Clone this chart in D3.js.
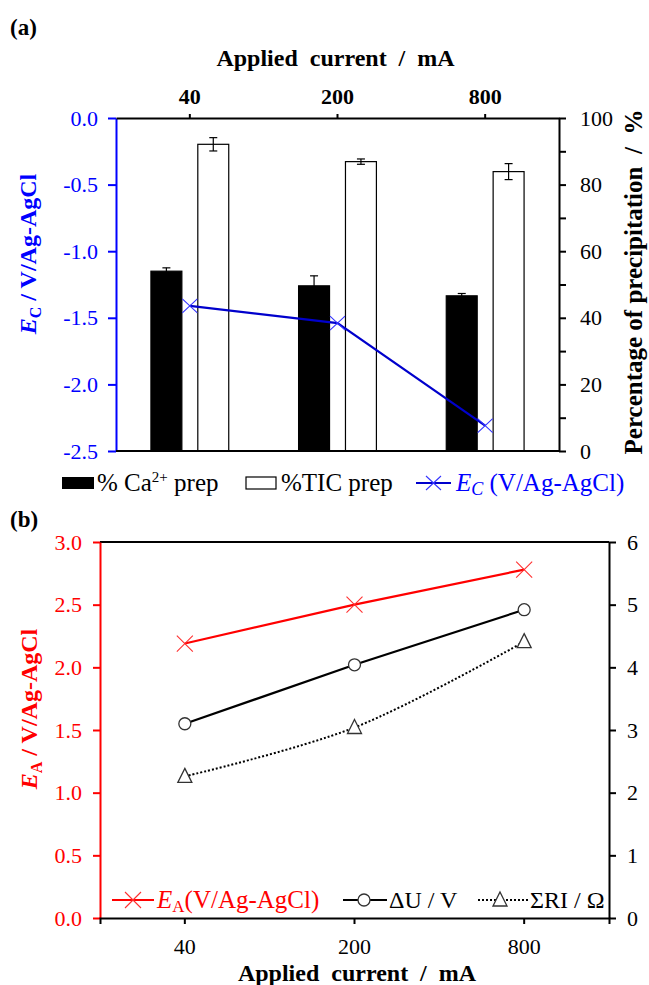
<!DOCTYPE html>
<html>
<head>
<meta charset="utf-8">
<script src="https://cdn.jsdelivr.net/npm/d3@7"></script>
<style>
  body { margin: 0; background: #fff; }
  svg text { font-family: 'Liberation Serif', 'Times New Roman', serif; }
</style>
</head>
<body>
<div id="graf"></div>
<script>
// datos
const categorias = ['40', '200', '800']
const caPrep  = [54.0, 49.6, 46.6]
const caErr   = [1.0, 3.0, 0.7]
const ticPrep = [92.1, 86.9, 83.9]
const ticErr  = [2.0, 0.8, 2.4]
const ecValores = [-1.41, -1.54, -2.31]
const eaValores = [2.19, 2.50, 2.78]
const duValores = [3.10, 4.04, 4.92]
const riValores = [2.26, 3.04, 4.41]

const ecTicks  = [0, -0.5, -1.0, -1.5, -2.0, -2.5]
const pctTicks = [0, 10, 20, 30, 40, 50, 60, 70, 80, 90, 100]
const eaTicks  = [0, 0.5, 1.0, 1.5, 2.0, 2.5, 3.0]
const derTicks = [0, 1, 2, 3, 4, 5, 6]

const AZUL = '#0000ff', AZUL_L = '#0000cc', ROJO = '#ff0000'
const FUENTE = "'Liberation Serif', 'Times New Roman', serif"
const fmt1 = d => d3.format('.1f')(d).replace('−', '-')

const svg = d3.select('#graf').append('svg')
  .attr('width', 649).attr('height', 985)
  .attr('font-family', FUENTE)

function estiloEje(g, color, tam, negrita) {
  g.attr('font-family', null).attr('font-size', null)
  g.selectAll('path, line').attr('stroke', color).attr('stroke-width', 2)
  g.selectAll('text').attr('fill', color)
    .attr('font-family', FUENTE).attr('font-size', tam)
    .attr('font-weight', negrita ? 'bold' : 'normal')
}

// ---------------- (a) ----------------
const a = { left: 116, top: 118, right: 559, bottom: 451 }

svg.append('text').attr('x', 10).attr('y', 35)
  .attr('font-size', 23).attr('font-weight', 'bold').text('(a)')

const xa = d3.scaleBand().domain(categorias).range([a.left, a.right])
const xi = d3.scaleBand().domain(['ca', 'tic']).range([0, xa.bandwidth()])
  .paddingInner(0.34).paddingOuter(0.745)
const yEc = d3.scaleLinear().domain([-2.5, 0]).range([a.bottom, a.top])
const yPct = d3.scaleLinear().domain([0, 100]).range([a.bottom, a.top])

const barras = categorias.map((c, i) => [
  { c, serie: 'ca', v: caPrep[i], e: caErr[i] },
  { c, serie: 'tic', v: ticPrep[i], e: ticErr[i] }
]).flat()

const gb = svg.append('g')
gb.selectAll('rect').data(barras).enter().append('rect')
  .attr('x', d => xa(d.c) + xi(d.serie))
  .attr('width', xi.bandwidth())
  .attr('y', d => yPct(d.v))
  .attr('height', d => yPct(0) - yPct(d.v))
  .attr('fill', d => d.serie === 'ca' ? '#000' : '#fff')
  .attr('stroke', '#000').attr('stroke-width', 1.2)

const ge = svg.append('g').attr('stroke', '#000').attr('stroke-width', 1.2)
barras.forEach(d => {
  const cx = xa(d.c) + xi(d.serie) + xi.bandwidth() / 2
  ge.append('line').attr('x1', cx).attr('x2', cx)
    .attr('y1', yPct(d.v + d.e)).attr('y2', yPct(d.v - d.e))
  ;[d.v + d.e, d.v - d.e].forEach(v => {
    ge.append('line').attr('x1', cx - 4).attr('x2', cx + 4)
      .attr('y1', yPct(v)).attr('y2', yPct(v))
  })
})

// ejes (a)
svg.append('g').attr('transform', `translate(${a.left},0)`)
  .call(d3.axisLeft(yEc).tickValues(ecTicks).tickFormat(fmt1).tickSize(8).tickPadding(10).tickSizeOuter(0))
  .call(g => estiloEje(g, AZUL, 22, false))

svg.append('g').attr('transform', `translate(${a.right},0)`)
  .call(d3.axisRight(yPct).tickValues(pctTicks).tickFormat(d => d % 20 === 0 ? d : '').tickSize(7).tickPadding(14).tickSizeOuter(0))
  .call(g => estiloEje(g, '#000', 22, false))

svg.append('g').attr('transform', `translate(0,${a.top})`)
  .call(d3.axisTop(xa).tickSize(4).tickPadding(10).tickSizeOuter(0))
  .call(g => estiloEje(g, '#000', 22, true))

svg.append('line').attr('x1', a.left).attr('x2', a.right)
  .attr('y1', a.bottom).attr('y2', a.bottom).attr('stroke', '#000').attr('stroke-width', 2)

svg.append('text').attr('x', (a.left + a.right) / 2 - 2).attr('y', 66)
  .attr('text-anchor', 'middle').attr('font-size', 24).attr('font-weight', 'bold')
  .style('white-space', 'pre').text('Applied  current  /  mA')

// línea Ec
const lineaEc = d3.line().x((d, i) => xa(categorias[i]) + xa.bandwidth() / 2).y(d => yEc(d))
svg.append('path').datum(ecValores).attr('d', lineaEc)
  .attr('fill', 'none').attr('stroke', AZUL_L).attr('stroke-width', 2.2)

function cruz(g, x, y, hx, hy, color) {
  g.append('path').attr('d', `M${x - hx},${y - hy}L${x + hx},${y + hy}M${x - hx},${y + hy}L${x + hx},${y - hy}`)
    .attr('stroke', color).attr('stroke-width', 1.1).attr('fill', 'none')
}
ecValores.forEach((v, i) => cruz(svg, xa(categorias[i]) + xa.bandwidth() / 2, yEc(v), 7.5, 7, '#3535ff'))

// títulos de ejes (a)
const tIzqA = svg.append('text').attr('transform', `translate(36,254) rotate(-90)`)
  .attr('text-anchor', 'middle').attr('font-size', 24).attr('font-weight', 'bold').attr('fill', AZUL)
tIzqA.append('tspan').attr('font-style', 'italic').text('E')
tIzqA.append('tspan').attr('font-size', 16).attr('dy', 5).text('C')
tIzqA.append('tspan').attr('dy', -5).style('white-space', 'pre').text(' / V/Ag-AgCl')

svg.append('text').attr('transform', `translate(642,282) rotate(-90)`)
  .attr('text-anchor', 'middle').attr('font-size', 25).attr('font-weight', 'bold')
  .style('white-space', 'pre').text('Percentage of precipitation  /  %')

// leyenda (a)
const ly = 483
svg.append('rect').attr('x', 62).attr('y', ly - 6).attr('width', 32).attr('height', 12).attr('fill', '#000')
const t1 = svg.append('text').attr('x', 97).attr('y', ly + 8).attr('font-size', 25)
t1.append('tspan').text('% Ca')
t1.append('tspan').attr('font-size', 15).attr('dy', -9).text('2+')
t1.append('tspan').attr('dy', 9).style('white-space', 'pre').text(' prep')
svg.append('rect').attr('x', 246).attr('y', ly - 6).attr('width', 30).attr('height', 12)
  .attr('fill', '#fff').attr('stroke', '#000').attr('stroke-width', 1.2)
svg.append('text').attr('x', 281).attr('y', ly + 8).attr('font-size', 25).text('%TIC prep')
svg.append('line').attr('x1', 416).attr('x2', 451).attr('y1', ly).attr('y2', ly)
  .attr('stroke', AZUL_L).attr('stroke-width', 2.2)
cruz(svg, 433.5, ly, 7.5, 7, '#3535ff')
const t3 = svg.append('text').attr('x', 456).attr('y', ly + 8).attr('font-size', 25).attr('fill', AZUL)
t3.append('tspan').attr('font-style', 'italic').text('E')
t3.append('tspan').attr('font-style', 'italic').attr('font-size', 18).attr('dy', 4).text('C')
t3.append('tspan').attr('dy', -4).style('white-space', 'pre').text(' (V/Ag-AgCl)')

// ---------------- (b) ----------------
const b = { left: 100, top: 542, right: 609, bottom: 918 }

svg.append('text').attr('x', 10).attr('y', 527)
  .attr('font-size', 23).attr('font-weight', 'bold').text('(b)')

const xb = d3.scaleBand().domain(categorias).range([b.left, b.right])
const yEa = d3.scaleLinear().domain([0, 3]).range([b.bottom, b.top])
const yDer = d3.scaleLinear().domain([0, 6]).range([b.bottom, b.top])
const cx = c => xb(c) + xb.bandwidth() / 2

svg.append('line').attr('x1', b.left).attr('x2', b.right)
  .attr('y1', b.top).attr('y2', b.top).attr('stroke', '#000').attr('stroke-width', 2)

svg.append('g').attr('transform', `translate(${b.left},0)`)
  .call(d3.axisLeft(yEa).tickValues(eaTicks).tickFormat(fmt1).tickSize(7).tickPadding(11).tickSizeOuter(0))
  .call(g => estiloEje(g, ROJO, 22, false))

svg.append('g').attr('transform', `translate(${b.right},0)`)
  .call(d3.axisRight(yDer).tickValues(derTicks).tickFormat(d3.format('d')).tickSize(7).tickPadding(11).tickSizeOuter(0))
  .call(g => estiloEje(g, '#000', 22, false))

svg.append('g').attr('transform', `translate(0,${b.bottom})`)
  .call(d3.axisBottom(xb).tickSize(6).tickPadding(14).tickSizeOuter(6))
  .call(g => estiloEje(g, '#000', 22, false))

svg.append('text').attr('x', 357).attr('y', 981)
  .attr('text-anchor', 'middle').attr('font-size', 24).attr('font-weight', 'bold')
  .style('white-space', 'pre').text('Applied  current  /  mA')

const tIzqB = svg.append('text').attr('transform', `translate(37,709) rotate(-90)`)
  .attr('text-anchor', 'middle').attr('font-size', 24).attr('font-weight', 'bold').attr('fill', ROJO)
tIzqB.append('tspan').attr('font-style', 'italic').text('E')
tIzqB.append('tspan').attr('font-size', 16).attr('dy', 5).text('A')
tIzqB.append('tspan').attr('dy', -5).style('white-space', 'pre').text(' / V/Ag-AgCl')

// series (b)
const lineaEa = d3.line().x((d, i) => cx(categorias[i])).y(d => yEa(d))
svg.append('path').datum(eaValores).attr('d', lineaEa)
  .attr('fill', 'none').attr('stroke', ROJO).attr('stroke-width', 2.2)

const lineaDu = d3.line().x((d, i) => cx(categorias[i])).y(d => yDer(d))
svg.append('path').datum(duValores).attr('d', lineaDu)
  .attr('fill', 'none').attr('stroke', '#000').attr('stroke-width', 2.2)

const lineaRi = d3.line().x((d, i) => cx(categorias[i])).y(d => yDer(d)).curve(d3.curveCatmullRom)
svg.append('path').datum(riValores).attr('d', lineaRi)
  .attr('fill', 'none').attr('stroke', '#000').attr('stroke-width', 2).attr('stroke-dasharray', '2,2')

function triangulo(g, x, y) {
  g.append('path').attr('d', `M${x},${y - 8}L${x + 7},${y + 6}L${x - 7},${y + 6}Z`)
    .attr('fill', '#fff').attr('stroke', '#333').attr('stroke-width', 1.3)
}
function circulo(g, x, y) {
  g.append('circle').attr('cx', x).attr('cy', y).attr('r', 6)
    .attr('fill', '#fff').attr('stroke', '#333').attr('stroke-width', 1.3)
}

eaValores.forEach((v, i) => cruz(svg, cx(categorias[i]), yEa(v), 8, 8, '#ff3030'))
duValores.forEach((v, i) => circulo(svg, cx(categorias[i]), yDer(v)))
riValores.forEach((v, i) => triangulo(svg, cx(categorias[i]), yDer(v)))

// leyenda (b)
const lb = 900
svg.append('line').attr('x1', 112).attr('x2', 154).attr('y1', lb).attr('y2', lb)
  .attr('stroke', ROJO).attr('stroke-width', 2.2)
cruz(svg, 133, lb, 8, 8, '#ff3030')
const tb1 = svg.append('text').attr('x', 157).attr('y', lb + 8).attr('font-size', 25).attr('fill', ROJO)
tb1.append('tspan').attr('font-style', 'italic').text('E')
tb1.append('tspan').attr('font-size', 17).attr('dy', 4).text('A')
tb1.append('tspan').attr('dy', -4).text('(V/Ag-AgCl)')

svg.append('line').attr('x1', 343).attr('x2', 387).attr('y1', lb).attr('y2', lb)
  .attr('stroke', '#000').attr('stroke-width', 2.2)
circulo(svg, 364, lb)
svg.append('text').attr('x', 389).attr('y', lb + 8).attr('font-size', 24)
  .style('white-space', 'pre').text('ΔU / V')

svg.append('line').attr('x1', 478).attr('x2', 528).attr('y1', lb).attr('y2', lb)
  .attr('stroke', '#000').attr('stroke-width', 2).attr('stroke-dasharray', '2,2')
triangulo(svg, 500, lb)
svg.append('text').attr('x', 530).attr('y', lb + 8).attr('font-size', 24)
  .style('white-space', 'pre').text('ΣRI / Ω')
</script>
</body>
</html>
